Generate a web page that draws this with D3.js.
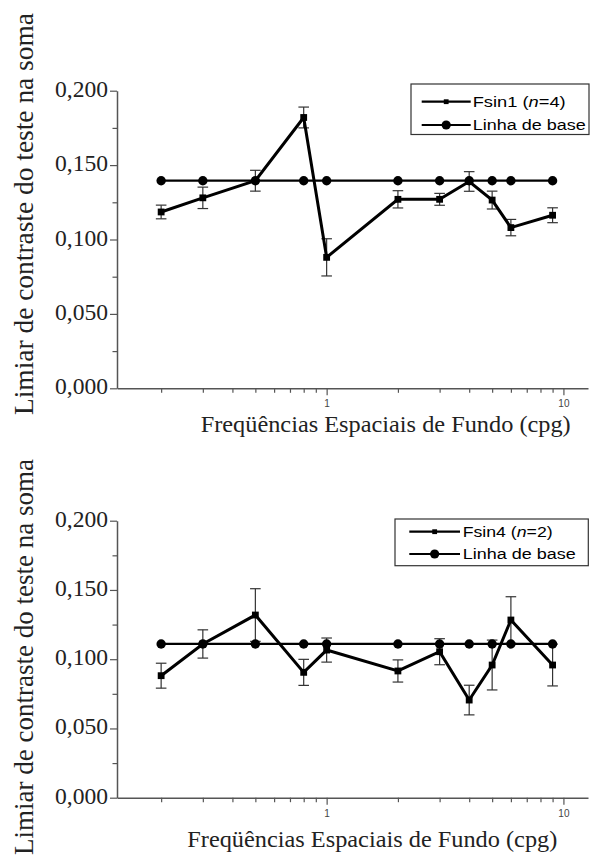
<!DOCTYPE html>
<html>
<head>
<meta charset="utf-8">
<script src="https://cdn.jsdelivr.net/npm/d3@7/dist/d3.min.js"></script>
<style>
  html, body { margin: 0; padding: 0; background: #fff; }
  svg { display: block; }
  .serif { font-family: "Liberation Serif", "Times New Roman", Times, "DejaVu Serif", "Noto Serif", serif; }
  .sans { font-family: "Liberation Sans", Arial, Helvetica, sans-serif; }
</style>
</head>
<body>
<svg id="chart" width="590" height="856"></svg>
<script>
// ---- data ----
const freqs = [0.2, 0.3, 0.5, 0.8, 1, 2, 3, 4, 5, 6, 9];
const fsin1 = [0.1185, 0.128, 0.1395, 0.182, 0.088, 0.127, 0.127, 0.139, 0.1265, 0.108, 0.1163];
const fsin1Err = [0.0046, 0.0072, 0.007, 0.007, 0.0125, 0.0058, 0.004, 0.0066, 0.006, 0.0055, 0.005];
const base1 = [0.1395, 0.1395, 0.1395, 0.1395, 0.1395, 0.1395, 0.1395, 0.1395, 0.1395, 0.1395, 0.1395];
const fsin4 = [0.0881, 0.111, 0.1319, 0.0905, 0.1066, 0.0915, 0.1054, 0.0705, 0.0958, 0.1283, 0.0958];
const fsin4Err = [0.009, 0.0102, 0.019, 0.0094, 0.0087, 0.008, 0.0094, 0.0107, 0.018, 0.0168, 0.0151];
const base4 = [0.111, 0.111, 0.111, 0.111, 0.111, 0.111, 0.111, 0.111, 0.111, 0.111, 0.111];
const yTickValues = [0, 0.05, 0.1, 0.15, 0.2];
const yTickLabels = ["0,000", "0,050", "0,100", "0,150", "0,200"];
const xMajorTicks = [1, 10];
const xMajorLabels = ["1", "10"];
const xMinorTicks = [0.2, 0.3, 0.4, 0.5, 0.6, 0.7, 0.8, 0.9, 2, 3, 4, 5, 6, 7, 8, 9];
const yMinorTicks = [0.025, 0.075, 0.125, 0.175];
const yTitle = "Limiar de contraste do teste na soma";
const xTitle = "Freqüências Espaciais de Fundo (cpg)";
const legend1 = ["Fsin1 (", "n", "=4)"];
const legend4 = ["Fsin4 (", "n", "=2)"];
const baseLabel = "Linha de base";

const svg = d3.select("#chart");
const axisColor = "#555";

function drawChart(cfg) {
  const g = svg.append("g");
  const x = d3.scaleLog().domain([0.1302, 12.7]).range([117, 588]);
  const y = d3.scaleLinear().domain([0, 0.2]).range([cfg.y0, cfg.y1]);

  // y axis
  const yAxis = d3.axisLeft(y).tickValues(yTickValues).tickFormat(() => "").tickSizeOuter(0).tickSizeInner(7);
  const ya = g.append("g").attr("transform", "translate(117,0)").call(yAxis);
  ya.select(".domain").attr("stroke", axisColor).attr("stroke-width", 1.5);
  ya.selectAll(".tick line").attr("stroke", axisColor).attr("stroke-width", 1.2);
  const yMin = d3.axisLeft(y).tickValues(yMinorTicks).tickFormat(() => "").tickSizeOuter(0).tickSizeInner(4.5);
  const ym = g.append("g").attr("transform", "translate(117,0)").call(yMin);
  ym.select(".domain").remove();
  ym.selectAll(".tick line").attr("stroke", axisColor).attr("stroke-width", 1.2);

  // y tick labels (serif)
  g.selectAll(".ylab").data(yTickValues).enter().append("text")
    .attr("class", "serif")
    .attr("x", 108).attr("y", d => y(d) + 6)
    .attr("text-anchor", "end")
    .attr("font-size", 23)
    .attr("fill", "#222")
    .attr("textLength", 53).attr("lengthAdjust", "spacingAndGlyphs")
    .text((d, i) => yTickLabels[i]);

  // x axis
  const xAxis = d3.axisBottom(x).tickValues(xMajorTicks).tickFormat((d, i) => xMajorLabels[i]).tickSizeOuter(0).tickSizeInner(7);
  const xa = g.append("g").attr("transform", `translate(0,${cfg.y0})`).call(xAxis);
  xa.attr("font-family", null);
  xa.select(".domain").attr("stroke", axisColor).attr("stroke-width", 1.5);
  xa.selectAll(".tick line").attr("stroke", axisColor).attr("stroke-width", 1.2);
  xa.selectAll(".tick text").attr("class", "sans").attr("font-size", 10).attr("fill", "#444").attr("dy", "0.9em");
  const xMin = d3.axisBottom(x).tickValues(xMinorTicks).tickFormat(() => "").tickSizeOuter(0).tickSizeInner(4.5);
  const xm = g.append("g").attr("transform", `translate(0,${cfg.y0})`).call(xMin);
  xm.select(".domain").remove();
  xm.selectAll(".tick line").attr("stroke", axisColor).attr("stroke-width", 1.2);

  // titles
  g.append("text")
    .attr("class", "serif")
    .attr("transform", `translate(33,${cfg.yTitleCenter}) rotate(-90)`)
    .attr("text-anchor", "middle")
    .attr("font-size", 27).attr("fill", "#222")
    .attr("textLength", cfg.yTitleLen).attr("lengthAdjust", "spacingAndGlyphs")
    .text(yTitle);
  g.append("text")
    .attr("class", "serif")
    .attr("x", cfg.xTitleX).attr("y", cfg.xTitleY)
    .attr("font-size", 24).attr("fill", "#222")
    .attr("textLength", 370).attr("lengthAdjust", "spacingAndGlyphs")
    .text(xTitle);

  const pts = freqs.map((f, i) => ({ f: f, v: cfg.vals[i], e: cfg.errs[i], b: cfg.base[i] }));

  // error bars
  const eb = g.append("g").attr("stroke", "#333").attr("stroke-width", 1.2);
  pts.forEach(p => {
    const cx = x(p.f);
    eb.append("line").attr("x1", cx).attr("x2", cx).attr("y1", y(p.v - p.e)).attr("y2", y(p.v + p.e));
    eb.append("line").attr("x1", cx - 5.3).attr("x2", cx + 5.3).attr("y1", y(p.v + p.e)).attr("y2", y(p.v + p.e));
    eb.append("line").attr("x1", cx - 5.3).attr("x2", cx + 5.3).attr("y1", y(p.v - p.e)).attr("y2", y(p.v - p.e));
  });

  // data line
  const line = d3.line().x(d => x(d.f)).y(d => y(d.v));
  g.append("path").datum(pts).attr("d", line).attr("fill", "none").attr("stroke", "#000").attr("stroke-width", 3).attr("stroke-linejoin", "miter");
  g.selectAll(".sq").data(pts).enter().append("rect")
    .attr("x", d => x(d.f) - 3.4).attr("y", d => y(d.v) - 3.4)
    .attr("width", 6.8).attr("height", 6.8).attr("fill", "#000");

  // baseline
  const bline = d3.line().x(d => x(d.f)).y(d => y(d.b));
  g.append("path").datum(pts).attr("d", bline).attr("fill", "none").attr("stroke", "#000").attr("stroke-width", 2.2);
  g.selectAll(".ci").data(pts).enter().append("circle")
    .attr("cx", d => x(d.f)).attr("cy", d => y(d.b)).attr("r", 4.7).attr("fill", "#000");

  // legend
  const L = cfg.legend;
  g.append("rect").attr("x", L.x).attr("y", L.y).attr("width", L.w).attr("height", L.h)
    .attr("fill", "#fff").attr("stroke", "#333").attr("stroke-width", 1.2);
  [L.r1, L.r2].forEach((ry, i) => {
    g.append("line").attr("x1", L.lx1).attr("x2", L.lx2).attr("y1", ry).attr("y2", ry)
      .attr("stroke", "#000").attr("stroke-width", 2.2);
    const mx = (L.lx1 + L.lx2) / 2;
    if (i === 0) {
      g.append("rect").attr("x", mx - 2.4).attr("y", ry - 2.4).attr("width", 4.8).attr("height", 4.8).attr("fill", "#000");
    } else {
      g.append("circle").attr("cx", mx).attr("cy", ry).attr("r", 4.6).attr("fill", "#000");
    }
  });
  const t1 = g.append("text").attr("class", "sans").attr("x", L.tx).attr("y", L.r1 + 5)
    .attr("font-size", 14).attr("fill", "#000")
    .attr("textLength", L.t1w).attr("lengthAdjust", "spacingAndGlyphs");
  t1.append("tspan").text(cfg.legendText[0]);
  t1.append("tspan").attr("font-style", "italic").text(cfg.legendText[1]);
  t1.append("tspan").text(cfg.legendText[2]);
  g.append("text").attr("class", "sans").attr("x", L.tx).attr("y", L.r2 + 5)
    .attr("font-size", 14).attr("fill", "#000")
    .attr("textLength", 113).attr("lengthAdjust", "spacingAndGlyphs")
    .text(baseLabel);
}

drawChart({
  y0: 388.3, y1: 90.7,
  vals: fsin1, errs: fsin1Err, base: base1,
  yTitleCenter: 214, yTitleLen: 402, xTitleX: 200.7, xTitleY: 432,
  legendText: legend1,
  legend: { x: 411, y: 84, w: 178, h: 50.5, r1: 101.7, r2: 125, lx1: 421.7, lx2: 470.7, tx: 472.7, t1w: 93 }
});
drawChart({
  y0: 797.7, y1: 520.7,
  vals: fsin4, errs: fsin4Err, base: base4,
  yTitleCenter: 657, yTitleLen: 396, xTitleX: 187.3, xTitleY: 847,
  legendText: legend4,
  legend: { x: 395, y: 519, w: 193.3, h: 46.7, r1: 531.7, r2: 554, lx1: 409.3, lx2: 460, tx: 462.7, t1w: 90 }
});
</script>
</body>
</html>
